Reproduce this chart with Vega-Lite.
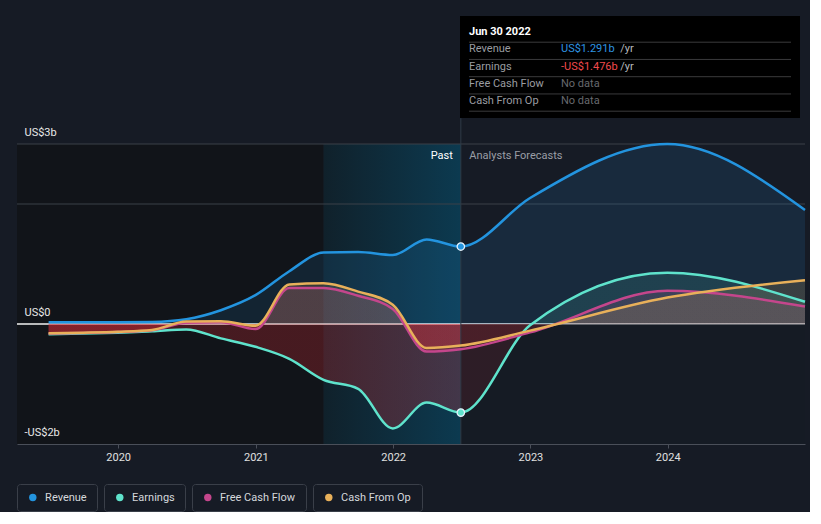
{
  "$schema": "https://vega.github.io/schema/vega-lite/v6.json",
  "background": "#161b25",
  "padding": {"left": 16, "top": 16, "right": 0, "bottom": 0},
  "config": {"view": {"stroke": null}, "font": "Roboto", "axis": {"labelFont": "Roboto"}},
  "datasets": {
    "series": [
      {"date": "2019-06-30", "Revenue": 0.03, "Earnings": -0.17, "FCF": -0.16, "CFO": -0.155},
      {"date": "2019-09-30", "Revenue": 0.03, "Earnings": -0.16, "FCF": -0.15, "CFO": -0.145},
      {"date": "2019-12-31", "Revenue": 0.03, "Earnings": -0.145, "FCF": -0.135, "CFO": -0.13},
      {"date": "2020-03-31", "Revenue": 0.035, "Earnings": -0.12, "FCF": -0.105, "CFO": -0.1},
      {"date": "2020-06-30", "Revenue": 0.08, "Earnings": -0.09, "FCF": 0.02, "CFO": 0.04},
      {"date": "2020-09-30", "Revenue": 0.23, "Earnings": -0.24, "FCF": 0.03, "CFO": 0.045},
      {"date": "2020-12-31", "Revenue": 0.48, "Earnings": -0.38, "FCF": -0.085, "CFO": -0.03},
      {"date": "2021-03-31", "Revenue": 0.88, "Earnings": -0.58, "FCF": 0.6, "CFO": 0.66},
      {"date": "2021-06-30", "Revenue": 1.19, "Earnings": -0.93, "FCF": 0.6, "CFO": 0.68},
      {"date": "2021-09-30", "Revenue": 1.2, "Earnings": -1.08, "FCF": 0.47, "CFO": 0.54},
      {"date": "2021-12-31", "Revenue": 1.15, "Earnings": -1.74, "FCF": 0.25, "CFO": 0.32},
      {"date": "2022-03-31", "Revenue": 1.41, "Earnings": -1.31, "FCF": -0.46, "CFO": -0.4},
      {"date": "2022-06-30", "Revenue": 1.291, "Earnings": -1.476, "FCF": -0.42, "CFO": -0.36},
      {"date": "2022-12-31", "Revenue": 2.1, "Earnings": -0.02, "FCF": -0.14, "CFO": -0.11},
      {"date": "2023-12-31", "Revenue": 3.0, "Earnings": 0.855, "FCF": 0.555, "CFO": 0.44},
      {"date": "2024-12-31", "Revenue": 1.9, "Earnings": 0.37, "FCF": 0.29, "CFO": 0.73}
    ],
    "tip": [
      {"row": "Jun 30 2022", "label": "Jun 30 2022", "value": "", "unit": ""},
      {"row": "Revenue", "label": "Revenue", "value": "US$1.291b", "unit": "/yr"},
      {"row": "Earnings", "label": "Earnings", "value": "-US$1.476b", "unit": "/yr"},
      {"row": "Free Cash Flow", "label": "Free Cash Flow", "value": "No data", "unit": ""},
      {"row": "Cash From Op", "label": "Cash From Op", "value": "No data", "unit": ""}
    ]
  },
  "spacing": 21,
  "vconcat": [
    {
      "spacing": -4,
      "vconcat": [
        {
          "spacing": 441,
          "hconcat": [
            {
              "width": 1, "height": 84,
              "data": {"values": [{}]},
              "mark": {"type": "text", "text": ""},
              "encoding": {}
            },
            {
              "width": 322, "height": 84,
              "view": {"fill": "#000000", "stroke": "#000000", "strokeWidth": 18},
              "data": {"name": "tip"},
              "encoding": {
                "y": {"field": "row", "type": "nominal", "axis": null,
                  "scale": {"type": "point", "domain": ["Jun 30 2022", "Revenue", "Earnings", "Free Cash Flow", "Cash From Op"], "padding": 0.4348, "align": 0.48}}
              },
              "layer": [
                {"mark": {"type": "rule", "color": "#3a3a3c", "strokeWidth": 1, "yOffset": 10}},
                {
                  "transform": [{"filter": "datum.row === 'Jun 30 2022'"}],
                  "mark": {"type": "text", "align": "left", "baseline": "middle", "fontSize": 11, "fontWeight": "bold", "color": "#ffffff"},
                  "encoding": {
                    "x": {"datum": 0, "type": "quantitative", "axis": null, "scale": {"domain": [0, 28], "nice": false, "zero": false}},
                    "text": {"field": "label"}
                  }
                },
                {
                  "transform": [{"filter": "datum.row !== 'Jun 30 2022'"}],
                  "mark": {"type": "text", "align": "left", "baseline": "middle", "fontSize": 11, "color": "#9a9ca1"},
                  "encoding": {
                    "x": {"datum": 0, "type": "quantitative"},
                    "text": {"field": "label"}
                  }
                },
                {
                  "mark": {"type": "text", "align": "left", "baseline": "middle", "fontSize": 11},
                  "encoding": {
                    "x": {"datum": 8, "type": "quantitative"},
                    "text": {"field": "value"},
                    "color": {"condition": [{"test": "datum.row === 'Revenue'", "value": "#2e95e3"}, {"test": "datum.row === 'Earnings'", "value": "#f24a4c"}], "value": "#67696e"}
                  }
                },
                {
                  "mark": {"type": "text", "align": "left", "baseline": "middle", "fontSize": 11, "color": "#b6b8bc"},
                  "encoding": {
                    "x": {"datum": 13.15, "type": "quantitative"},
                    "text": {"field": "unit"}
                  }
                }
              ]
            }
          ]
        },
        {
          "width": 788,
          "height": 300,
          "data": {"name": "series"},
          "layer": [
            {
              "data": {"values": [{"start": "2019-04-07", "end": "2021-06-30"}]},
              "mark": {"type": "rect", "color": "#111419"},
              "encoding": {
                "x": {"field": "start", "type": "temporal",
                  "scale": {"domain": [{"year": 2019, "month": 4, "date": 7, "utc": true}, {"year": 2024, "month": 12, "date": 31, "utc": true}]},
                  "axis": {"title": null, "format": "%Y", "tickCount": {"interval": "year", "step": 1}, "grid": false, "domainColor": "#4a4f59", "tickColor": "#4a4f59", "tickSize": 4, "labelColor": "#e0e0e0", "labelFontSize": 11, "labelPadding": 3, "labelFlush": false, "zindex": 1}},
                "x2": {"field": "end"}
              }
            },
            {
              "data": {"values": [{"start": "2021-06-30", "end": "2022-06-30"}]},
              "mark": {"type": "rect", "color": {"gradient": "linear", "x1": 0, "y1": 0, "x2": 1, "y2": 0, "stops": [{"offset": 0, "color": "#10212b"}, {"offset": 1, "color": "#0c3a50"}]}},
              "encoding": {
                "x": {"field": "start", "type": "temporal"},
                "x2": {"field": "end"}
              }
            },
            {
              "data": {"values": [{"level": 2}, {"level": 3}]},
              "mark": {"type": "rule", "color": "#3b4049", "strokeWidth": 1},
              "encoding": {"y": {"field": "level", "type": "quantitative"}}
            },
            {
              "data": {"values": [{}]},
              "mark": {"type": "rule", "color": "#f2f2f2", "strokeWidth": 1.5},
              "encoding": {"y": {"datum": 0}}
            },
            {
              "mark": {"type": "area", "interpolate": "monotone", "color": "rgba(35,148,223,0.13)"},
              "encoding": {
                "x": {"field": "date", "type": "temporal"},
                "y": {"field": "Revenue", "type": "quantitative", "scale": {"domain": [-2, 3], "nice": false, "zero": false},
                  "axis": {"title": null, "values": [-2, 0, 3], "domain": false, "ticks": false, "grid": false, "zindex": 1, "labelAlign": "left", "labelBaseline": "middle", "labelPadding": -7, "labelOffset": -12, "labelOverlap": false, "labelBound": false,
                    "labelExpr": "datum.value === 3 ? 'US$3b' : datum.value === 0 ? 'US$0' : '-US$2b'",
                    "labelColor": "#e8e8e8", "labelFontSize": 11}},
                "y2": {"datum": 0}
              }
            },
            {
              "mark": {"type": "area", "interpolate": "monotone", "color": {"gradient": "linear", "x1": 0, "y1": 0, "x2": 0, "y2": 1, "stops": [{"offset": 0, "color": "rgba(88,230,208,0.12)"}, {"offset": 0.3295, "color": "rgba(88,230,208,0.12)"}, {"offset": 0.3295, "color": "rgba(230,45,55,0.25)"}, {"offset": 1, "color": "rgba(230,45,55,0.25)"}]}},
              "encoding": {
                "x": {"field": "date", "type": "temporal"},
                "y": {"field": "Earnings", "type": "quantitative"},
                "y2": {"datum": 0}
              }
            },
            {
              "mark": {"type": "area", "interpolate": "monotone", "color": {"gradient": "linear", "x1": 0, "y1": 0, "x2": 0, "y2": 1, "stops": [{"offset": 0, "color": "rgba(196,70,140,0.17)"}, {"offset": 0.566, "color": "rgba(196,70,140,0.17)"}, {"offset": 0.566, "color": "rgba(230,45,55,0.22)"}, {"offset": 1, "color": "rgba(230,45,55,0.22)"}]}},
              "encoding": {
                "x": {"field": "date", "type": "temporal"},
                "y": {"field": "FCF", "type": "quantitative"},
                "y2": {"datum": 0}
              }
            },
            {
              "mark": {"type": "area", "interpolate": "monotone", "color": {"gradient": "linear", "x1": 0, "y1": 0, "x2": 0, "y2": 1, "stops": [{"offset": 0, "color": "rgba(232,176,90,0.16)"}, {"offset": 0.646, "color": "rgba(232,176,90,0.16)"}, {"offset": 0.646, "color": "rgba(230,45,55,0.22)"}, {"offset": 1, "color": "rgba(230,45,55,0.22)"}]}},
              "encoding": {
                "x": {"field": "date", "type": "temporal"},
                "y": {"field": "CFO", "type": "quantitative"},
                "y2": {"datum": 0}
              }
            },
            {
              "data": {"values": [{"start": "2022-06-30", "end": "2024-12-31"}]},
              "mark": {"type": "rect", "color": "#161b25", "opacity": 0.55},
              "encoding": {
                "x": {"field": "start", "type": "temporal"},
                "x2": {"field": "end"},
                "y": {"datum": 0},
                "y2": {"datum": -2}
              }
            },
            {
              "data": {"values": [{"date": "2022-06-30"}]},
              "mark": {"type": "rule", "color": "#2f3b47", "strokeWidth": 1},
              "encoding": {
                "x": {"field": "date", "type": "temporal"},
                "y": {"datum": 3.43},
                "y2": {"datum": -2}
              }
            },
            {
              "mark": {"type": "line", "interpolate": "monotone", "color": "#2394df", "strokeWidth": 2.5},
              "encoding": {"x": {"field": "date", "type": "temporal"}, "y": {"field": "Revenue", "type": "quantitative"}}
            },
            {
              "mark": {"type": "line", "interpolate": "monotone", "color": "#5fe3cc", "strokeWidth": 2.5},
              "encoding": {"x": {"field": "date", "type": "temporal"}, "y": {"field": "Earnings", "type": "quantitative"}}
            },
            {
              "mark": {"type": "line", "interpolate": "monotone", "color": "#c4468c", "strokeWidth": 2.5},
              "encoding": {"x": {"field": "date", "type": "temporal"}, "y": {"field": "FCF", "type": "quantitative"}}
            },
            {
              "mark": {"type": "line", "interpolate": "monotone", "color": "#e8b05a", "strokeWidth": 2.5},
              "encoding": {"x": {"field": "date", "type": "temporal"}, "y": {"field": "CFO", "type": "quantitative"}}
            },
            {
              "data": {"values": [{"date": "2022-06-30", "series": "Revenue", "value": 1.291}, {"date": "2022-06-30", "series": "Earnings", "value": -1.476}]},
              "mark": {"type": "circle", "size": 55, "opacity": 1, "stroke": "#e6f2fb", "strokeWidth": 1.3},
              "encoding": {
                "x": {"field": "date", "type": "temporal"},
                "y": {"field": "value", "type": "quantitative"},
                "color": {"field": "series", "type": "nominal", "scale": {"domain": ["Revenue", "Earnings"], "range": ["#2394df", "#5fe3cc"]}, "legend": null}
              }
            },
            {
              "data": {"values": [{"date": "2022-06-30", "label": "Past"}]},
              "mark": {"type": "text", "align": "right", "baseline": "middle", "dx": -8, "dy": 12, "fontSize": 11, "color": "#ffffff"},
              "encoding": {"x": {"field": "date", "type": "temporal"}, "y": {"datum": 3}, "text": {"field": "label"}}
            },
            {
              "data": {"values": [{"date": "2022-06-30", "label": "Analysts Forecasts"}]},
              "mark": {"type": "text", "align": "left", "baseline": "middle", "dx": 8.5, "dy": 12, "fontSize": 11, "color": "#9a9ea6"},
              "encoding": {"x": {"field": "date", "type": "temporal"}, "y": {"datum": 3}, "text": {"field": "label"}}
            }
          ]
        }
      ]
    },
    {
      "spacing": 5,
      "hconcat": [
        {
          "width": 80, "height": 27,
          "view": {"stroke": "#3a3f49", "strokeWidth": 1, "cornerRadius": 3},
          "data": {"values": [{"name": "Revenue"}]},
          "layer": [
            {"mark": {"type": "circle", "size": 55, "opacity": 1, "color": "#2394df", "xOffset": -24.2}, "encoding": {}},
            {"mark": {"type": "text", "align": "left", "baseline": "middle", "fontSize": 11, "color": "#d5d8dc", "dx": -11.9}, "encoding": {"text": {"field": "name"}}}
          ]
        },
        {
          "width": 81, "height": 27,
          "view": {"stroke": "#3a3f49", "strokeWidth": 1, "cornerRadius": 3},
          "data": {"values": [{"name": "Earnings"}]},
          "layer": [
            {"mark": {"type": "circle", "size": 55, "opacity": 1, "color": "#5fe3cc", "xOffset": -24.7}, "encoding": {}},
            {"mark": {"type": "text", "align": "left", "baseline": "middle", "fontSize": 11, "color": "#d5d8dc", "dx": -12.4}, "encoding": {"text": {"field": "name"}}}
          ]
        },
        {
          "width": 114, "height": 27,
          "view": {"stroke": "#3a3f49", "strokeWidth": 1, "cornerRadius": 3},
          "data": {"values": [{"name": "Free Cash Flow"}]},
          "layer": [
            {"mark": {"type": "circle", "size": 55, "opacity": 1, "color": "#c4468c", "xOffset": -41.2}, "encoding": {}},
            {"mark": {"type": "text", "align": "left", "baseline": "middle", "fontSize": 11, "color": "#d5d8dc", "dx": -28.9}, "encoding": {"text": {"field": "name"}}}
          ]
        },
        {
          "width": 109, "height": 27,
          "view": {"stroke": "#3a3f49", "strokeWidth": 1, "cornerRadius": 3},
          "data": {"values": [{"name": "Cash From Op"}]},
          "layer": [
            {"mark": {"type": "circle", "size": 55, "opacity": 1, "color": "#e8b05a", "xOffset": -38.7}, "encoding": {}},
            {"mark": {"type": "text", "align": "left", "baseline": "middle", "fontSize": 11, "color": "#d5d8dc", "dx": -26.4}, "encoding": {"text": {"field": "name"}}}
          ]
        }
      ]
    }
  ]
}
